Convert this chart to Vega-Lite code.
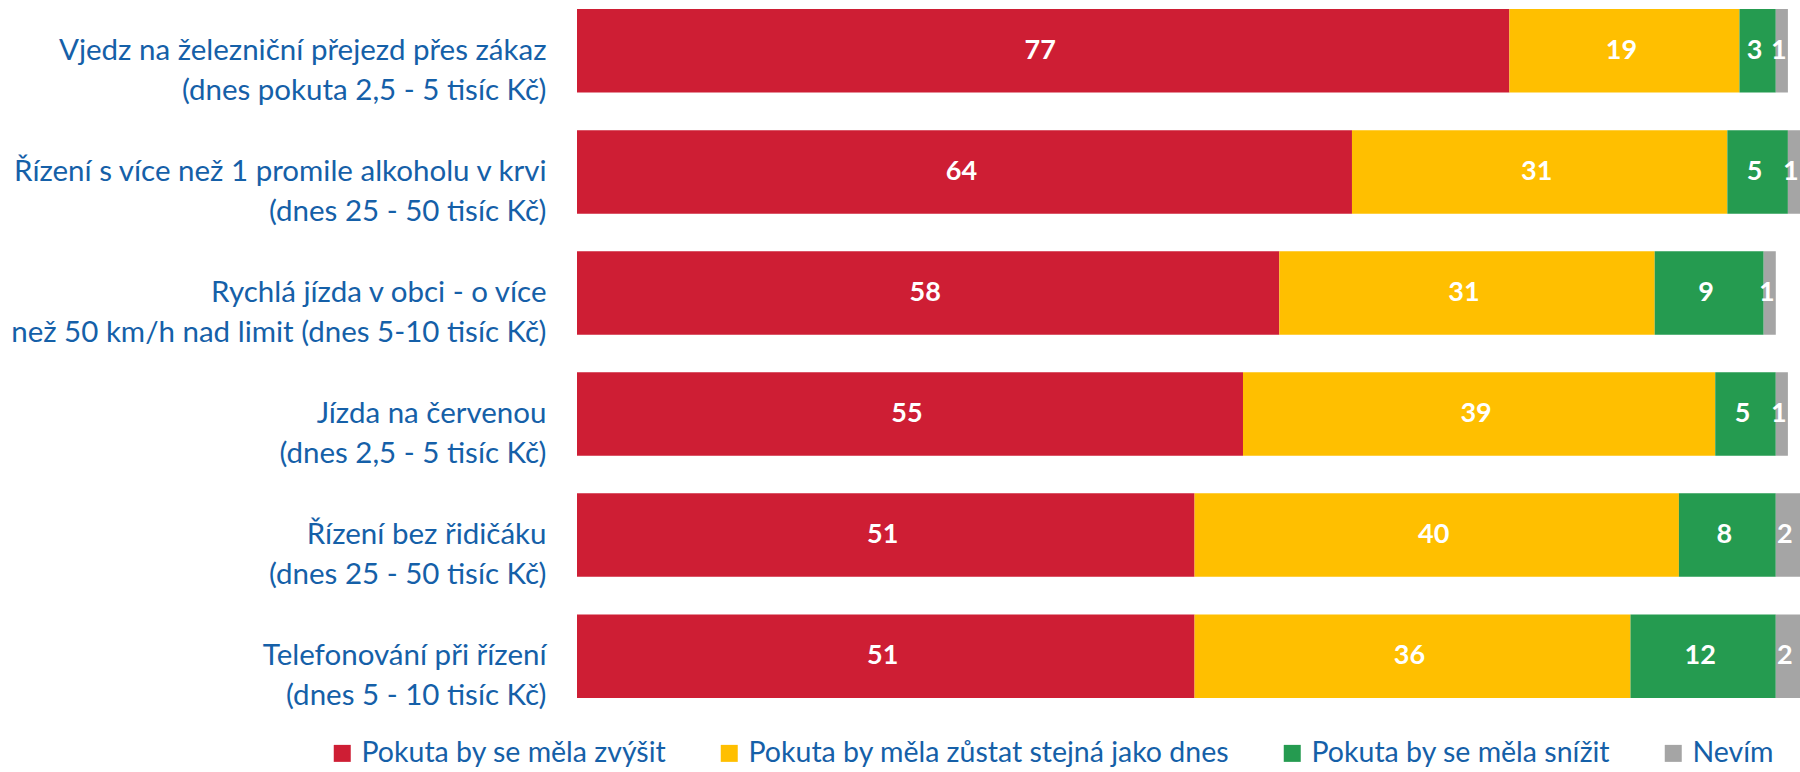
{
  "$schema": "https://vega.github.io/schema/vega-lite/v6.json",
  "autosize": {"type": "none"},
  "padding": {"left": 577, "top": 0, "right": 0, "bottom": 65},
  "width": 1223,
  "height": 707,
  "background": "white",
  "config": {"view": {"stroke": null}, "font": "Lato"},
  "data": {"values": [
    {"cat": "Vjedz na železniční přejezd přes zákaz\n(dnes pokuta 2,5 - 5 tisíc Kč)", "answer": "Pokuta by se měla zvýšit", "k": 1, "value": 77},
    {"cat": "Vjedz na železniční přejezd přes zákaz\n(dnes pokuta 2,5 - 5 tisíc Kč)", "answer": "Pokuta by měla zůstat stejná jako dnes", "k": 2, "value": 19},
    {"cat": "Vjedz na železniční přejezd přes zákaz\n(dnes pokuta 2,5 - 5 tisíc Kč)", "answer": "Pokuta by se měla snížit", "k": 3, "value": 3},
    {"cat": "Vjedz na železniční přejezd přes zákaz\n(dnes pokuta 2,5 - 5 tisíc Kč)", "answer": "Nevím", "k": 4, "value": 1},
    {"cat": "Řízení s více než 1 promile alkoholu v krvi\n(dnes 25 - 50 tisíc Kč)", "answer": "Pokuta by se měla zvýšit", "k": 1, "value": 64},
    {"cat": "Řízení s více než 1 promile alkoholu v krvi\n(dnes 25 - 50 tisíc Kč)", "answer": "Pokuta by měla zůstat stejná jako dnes", "k": 2, "value": 31},
    {"cat": "Řízení s více než 1 promile alkoholu v krvi\n(dnes 25 - 50 tisíc Kč)", "answer": "Pokuta by se měla snížit", "k": 3, "value": 5},
    {"cat": "Řízení s více než 1 promile alkoholu v krvi\n(dnes 25 - 50 tisíc Kč)", "answer": "Nevím", "k": 4, "value": 1},
    {"cat": "Rychlá jízda v obci - o více\nnež 50 km/h nad limit (dnes 5-10 tisíc Kč)", "answer": "Pokuta by se měla zvýšit", "k": 1, "value": 58},
    {"cat": "Rychlá jízda v obci - o více\nnež 50 km/h nad limit (dnes 5-10 tisíc Kč)", "answer": "Pokuta by měla zůstat stejná jako dnes", "k": 2, "value": 31},
    {"cat": "Rychlá jízda v obci - o více\nnež 50 km/h nad limit (dnes 5-10 tisíc Kč)", "answer": "Pokuta by se měla snížit", "k": 3, "value": 9},
    {"cat": "Rychlá jízda v obci - o více\nnež 50 km/h nad limit (dnes 5-10 tisíc Kč)", "answer": "Nevím", "k": 4, "value": 1},
    {"cat": "Jízda na červenou\n(dnes 2,5 - 5 tisíc Kč)", "answer": "Pokuta by se měla zvýšit", "k": 1, "value": 55},
    {"cat": "Jízda na červenou\n(dnes 2,5 - 5 tisíc Kč)", "answer": "Pokuta by měla zůstat stejná jako dnes", "k": 2, "value": 39},
    {"cat": "Jízda na červenou\n(dnes 2,5 - 5 tisíc Kč)", "answer": "Pokuta by se měla snížit", "k": 3, "value": 5},
    {"cat": "Jízda na červenou\n(dnes 2,5 - 5 tisíc Kč)", "answer": "Nevím", "k": 4, "value": 1},
    {"cat": "Řízení bez řidičáku\n(dnes 25 - 50 tisíc Kč)", "answer": "Pokuta by se měla zvýšit", "k": 1, "value": 51},
    {"cat": "Řízení bez řidičáku\n(dnes 25 - 50 tisíc Kč)", "answer": "Pokuta by měla zůstat stejná jako dnes", "k": 2, "value": 40},
    {"cat": "Řízení bez řidičáku\n(dnes 25 - 50 tisíc Kč)", "answer": "Pokuta by se měla snížit", "k": 3, "value": 8},
    {"cat": "Řízení bez řidičáku\n(dnes 25 - 50 tisíc Kč)", "answer": "Nevím", "k": 4, "value": 2},
    {"cat": "Telefonování při řízení\n(dnes 5 - 10 tisíc Kč)", "answer": "Pokuta by se měla zvýšit", "k": 1, "value": 51},
    {"cat": "Telefonování při řízení\n(dnes 5 - 10 tisíc Kč)", "answer": "Pokuta by měla zůstat stejná jako dnes", "k": 2, "value": 36},
    {"cat": "Telefonování při řízení\n(dnes 5 - 10 tisíc Kč)", "answer": "Pokuta by se měla snížit", "k": 3, "value": 12},
    {"cat": "Telefonování při řízení\n(dnes 5 - 10 tisíc Kč)", "answer": "Nevím", "k": 4, "value": 2}
  ]},
  "encoding": {
    "y": {
      "field": "cat", "type": "nominal", "sort": null,
      "scale": {"paddingInner": 0.31, "paddingOuter": 0.075},
      "axis": {
        "title": null, "domain": false, "ticks": false,
        "labelExpr": "split(datum.label, '\\n')",
        "labelFontSize": 29.5, "labelColor": "#1560A8", "labelPadding": 31,
        "labelLineHeight": 40, "labelLimit": 600, "labelFont": "Lato"
      }
    },
    "x": {
      "field": "value", "type": "quantitative", "stack": "zero",
      "scale": {"domain": [0, 101], "nice": false},
      "axis": null
    },
    "order": {"field": "k", "type": "quantitative"}
  },
  "layer": [
    {
      "mark": {"type": "bar", "clip": true},
      "encoding": {
        "color": {
          "field": "answer", "type": "nominal",
          "scale": {
            "domain": ["Pokuta by se měla zvýšit", "Pokuta by měla zůstat stejná jako dnes", "Pokuta by se měla snížit", "Nevím"],
            "range": ["#CE1E34", "#FFBF00", "#259B50", "#A5A5A5"]
          },
          "legend": {
            "title": null, "orient": "none", "direction": "horizontal",
            "legendX": -249, "legendY": 739,
            "symbolType": "square", "symbolSize": 289, "symbolStrokeWidth": 0,
            "labelFontSize": 28.5, "labelColor": "#1560A8", "labelFont": "Lato",
            "labelOffset": 5, "columnPadding": 48, "labelLimit": 600
          }
        }
      }
    },
    {
      "mark": {"type": "text", "color": "white", "fontWeight": "bold", "fontSize": 27, "font": "Lato", "baseline": "middle", "dx": -3},
      "encoding": {
        "x": {
          "field": "value", "type": "quantitative", "stack": "zero", "bandPosition": 0.5,
          "scale": {"domain": [0, 101], "nice": false},
          "axis": null
        },
        "detail": {"field": "answer"},
        "text": {"field": "value", "type": "quantitative"}
      }
    }
  ]
}
